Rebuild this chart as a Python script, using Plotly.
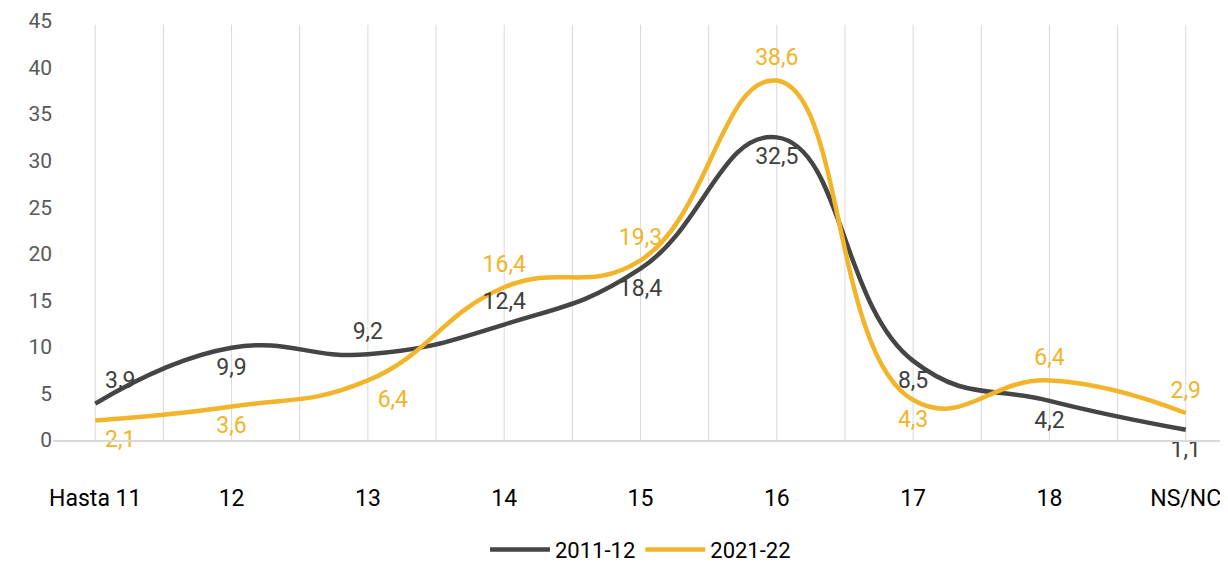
import plotly.graph_objects as go

categories = ["Hasta 11", "12", "13", "14", "15", "16", "17", "18", "NS/NC"]
series_2011 = [3.9, 9.9, 9.2, 12.4, 18.4, 32.5, 8.5, 4.2, 1.1]
series_2021 = [2.1, 3.6, 6.4, 16.4, 19.3, 38.6, 4.3, 6.4, 2.9]
labels_2011 = ["3,9", "9,9", "9,2", "12,4", "18,4", "32,5", "8,5", "4,2", "1,1"]
labels_2021 = ["2,1", "3,6", "6,4", "16,4", "19,3", "38,6", "4,3", "6,4", "2,9"]
pos_2011 = ["top right", "bottom center", "top center", "top center", "bottom center",
            "bottom center", "bottom center", "bottom center", "bottom center"]
pos_2021 = ["bottom right", "bottom center", "bottom right", "top center", "top center",
            "top center", "bottom center", "top center", "top center"]
y_ticks = [0, 5, 10, 15, 20, 25, 30, 35, 40, 45]

GRAY = "#454545"
YELLOW = "#F2B42A"
x_idx = list(range(len(categories)))

fig = go.Figure()
# lines
fig.add_trace(go.Scatter(
    x=x_idx, y=series_2011, name="2011-12", mode="lines",
    line=dict(color=GRAY, width=4.5, shape="spline", smoothing=1.3),
    hoverinfo="skip",
))
fig.add_trace(go.Scatter(
    x=x_idx, y=series_2021, name="2021-22", mode="lines",
    line=dict(color=YELLOW, width=4.5, shape="spline", smoothing=1.3),
    hoverinfo="skip",
))
# data labels
fig.add_trace(go.Scatter(
    x=x_idx, y=series_2011, mode="markers+text", showlegend=False,
    marker=dict(size=14, opacity=0), cliponaxis=False,
    text=labels_2011, textposition=pos_2011,
    textfont=dict(color="#404040", size=23, family="Roboto"),
    hoverinfo="skip",
))
fig.add_trace(go.Scatter(
    x=x_idx, y=series_2021, mode="markers+text", showlegend=False,
    marker=dict(size=14, opacity=0), cliponaxis=False,
    text=labels_2021, textposition=pos_2021,
    textfont=dict(color=YELLOW, size=23, family="Roboto"),
    hoverinfo="skip",
))

# vertical gridlines at each category and half category
for k in range(2 * len(categories) - 1):
    fig.add_shape(type="line", xref="x", yref="y", x0=k / 2, x1=k / 2, y0=0, y1=44.6,
                  line=dict(color="#d9d9d9", width=1), layer="below")

fig.update_layout(
    width=1220, height=557,
    margin=dict(l=45, r=0, t=13, b=125, autoexpand=False),
    paper_bgcolor="white", plot_bgcolor="white",
    font=dict(family="Roboto", size=23, color="#000000"),
    showlegend=True,
    legend=dict(orientation="h", x=0.5, xanchor="center", y=-0.262, yanchor="middle",
                font=dict(size=22, color="#000000"), itemwidth=60),
    xaxis=dict(range=[-0.31, 8.31], tickmode="array", tickvals=x_idx, ticktext=categories,
               showgrid=False, zeroline=False, showline=True, linecolor="#d9d9d9", linewidth=2,
               ticks="", ticklabelstandoff=36, automargin=False,
               tickfont=dict(size=23, color="#000000")),
    yaxis=dict(range=[0, 45], tickmode="array", tickvals=y_ticks, showgrid=False,
               zeroline=False, showline=False, ticks="", automargin=False,
               tickfont=dict(size=21, color="#595959")),
)

fig.write_html("out.html")
